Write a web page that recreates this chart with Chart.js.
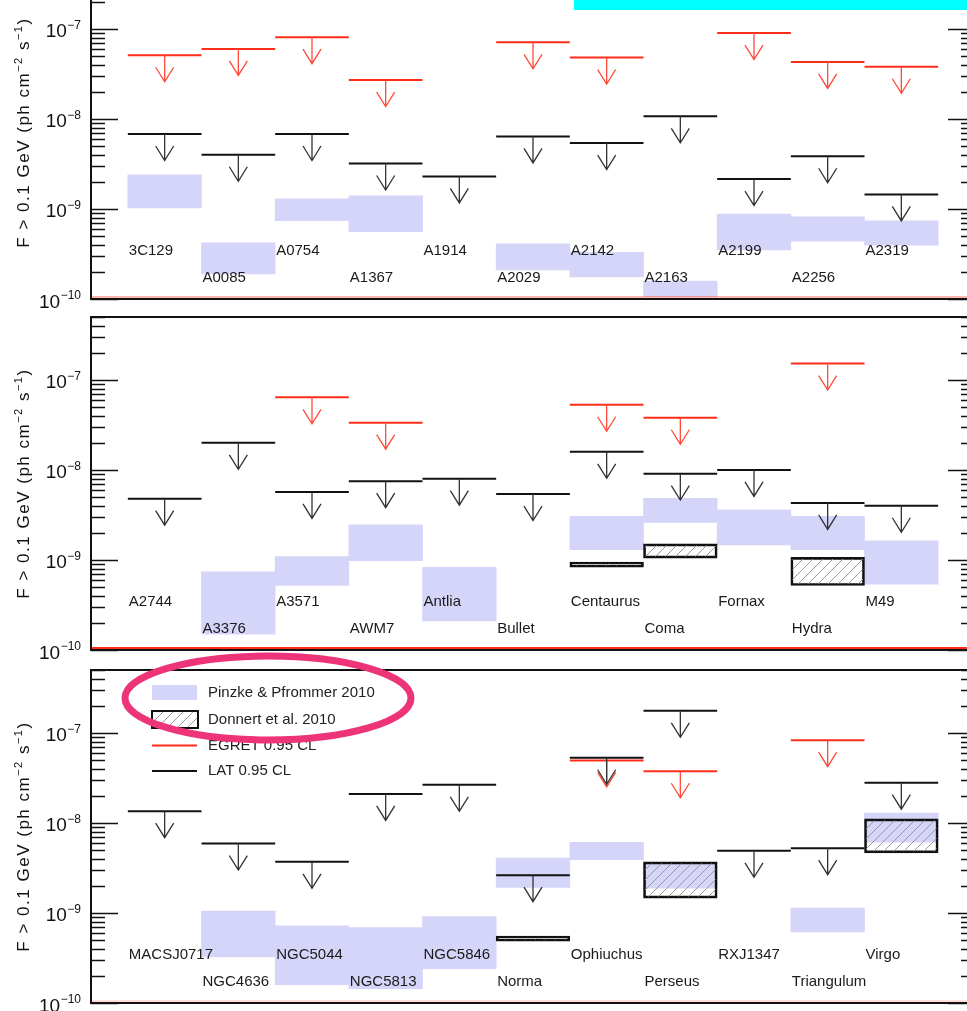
<!DOCTYPE html>
<html>
<head>
<meta charset="utf-8">
<script src="https://cdn.jsdelivr.net/npm/chart.js@4.4.1/dist/chart.umd.min.js"></script>
<style>
  html, body { margin: 0; padding: 0; background: #fff; overflow: hidden; }
  body { width: 967px; height: 1011px; position: relative; }
  .panel { position: absolute; left: 0; width: 1000px; height: 383px; }
  #overlay { position: absolute; left: 0; top: 0; }
</style>
</head>
<body>
<div class="panel" style="top:-59px"><canvas id="c1"></canvas></div>
<div class="panel" style="top:292px"><canvas id="c2"></canvas></div>
<div class="panel" style="top:645px"><canvas id="c3"></canvas></div>
<svg id="overlay" width="967" height="1011">
  <rect x="574" y="0" width="393" height="10" fill="#00ffff"/>
  <ellipse cx="268" cy="698" rx="143" ry="42" fill="none" stroke="#ee3479" stroke-width="7"/>
</svg>
<script>
// panel 1
const names1 = ['3C129', 'A0085', 'A0754', 'A1367', 'A1914', 'A2029', 'A2142', 'A2163', 'A2199', 'A2256', 'A2319'];
const pinzkeLow1 = [1.03e-9, 1.9e-10, 7.4e-10, 5.6e-10, null, 2.1e-10, 1.76e-10, 1.06e-10, 3.5e-10, 4.4e-10, 3.95e-10];
const pinzkeHigh1 = [2.4e-9, 4.2e-10, 1.3e-9, 1.4e-9, null, 4.1e-10, 3.3e-10, 1.58e-10, 8.8e-10, 8.2e-10, 7.4e-10];
const donnertLow1 = [null, null, null, null, null, null, null, null, null, null, null];
const donnertHigh1 = [null, null, null, null, null, null, null, null, null, null, null];
const egret1 = [5.1e-8, 6.0e-8, 8.1e-8, 2.7e-8, null, 7.1e-8, 4.8e-8, null, 9.0e-8, 4.3e-8, 3.8e-8];
const lat1 = [6.8e-9, 4.0e-9, 6.8e-9, 3.2e-9, 2.3e-9, 6.4e-9, 5.4e-9, 1.07e-8, 2.15e-9, 3.85e-9, 1.45e-9];

// panel 2
const names2 = ['A2744', 'A3376', 'A3571', 'AWM7', 'Antlia', 'Bullet', 'Centaurus', 'Coma', 'Fornax', 'Hydra', 'M49'];
const pinzkeLow2 = [null, 1.5e-10, 5.2e-10, 9.8e-10, 2.1e-10, null, 1.3e-9, 2.62e-9, 1.47e-9, 1.3e-9, 5.4e-10];
const pinzkeHigh2 = [null, 7.4e-10, 1.09e-9, 2.45e-9, 8.3e-10, null, 3.05e-9, 4.85e-9, 3.6e-9, 3.05e-9, 1.63e-9];
const donnertLow2 = [null, null, null, null, null, null, 8.3e-10, 1.05e-9, null, 5.2e-10, null];
const donnertHigh2 = [null, null, null, null, null, null, 9.5e-10, 1.51e-9, null, 1.07e-9, null];
const egret2 = [null, null, 6.4e-8, 3.35e-8, null, null, 5.3e-8, 3.8e-8, null, 1.52e-7, null];
const lat2 = [4.8e-9, 2.0e-8, 5.7e-9, 7.5e-9, 8.0e-9, 5.4e-9, 1.59e-8, 9.1e-9, 1.0e-8, 4.3e-9, 4.0e-9];

// panel 3
const names3 = ['MACSJ0717', 'NGC4636', 'NGC5044', 'NGC5813', 'NGC5846', 'Norma', 'Ophiuchus', 'Perseus', 'RXJ1347', 'Triangulum', 'Virgo'];
const pinzkeLow3 = [null, 3.25e-10, 1.6e-10, 1.44e-10, 2.4e-10, 1.92e-9, 3.9e-9, 1.89e-9, null, 6.15e-10, 6.1e-9];
const pinzkeHigh3 = [null, 1.05e-9, 7.2e-10, 6.9e-10, 9.1e-10, 4.07e-9, 6.1e-9, 3.64e-9, null, 1.13e-9, 1.29e-8];
const donnertLow3 = [null, null, null, null, null, 4.85e-10, null, 1.46e-9, null, null, 4.65e-9];
const donnertHigh3 = [null, null, null, null, null, 5.55e-10, null, 3.7e-9, null, null, 1.11e-8];
const egret3 = [null, null, null, null, null, null, 4.95e-8, 3.75e-8, null, 8.3e-8, null];
const lat3 = [1.35e-8, 5.9e-9, 3.7e-9, 2.1e-8, 2.65e-8, 2.63e-9, 5.3e-8, 1.76e-7, 4.9e-9, 5.25e-9, 2.8e-8];

const seriesNames = ['Pinzke & Pfrommer 2010', 'Donnert et al. 2010', 'EGRET 0.95 CL', 'LAT 0.95 CL'];
const decadeTicks = [1e-10, 1e-9, 1e-8, 1e-7];
const decadeExponents = ['\u221210', '\u22129', '\u22128', '\u22127'];
const yTitle = [['F > 0.1 GeV (ph cm', false], ['\u22122', true], [' s', false], ['\u22121', true], [')', false]];
const labelRows = [3.4e-10, 1.7e-10];
const yMin = 1e-10, yMax = 5e-7;

const FONT = "'Liberation Sans', Arial, sans-serif";
const BLUE = 'rgb(213,213,249)';
const RED = '#ff2d1a';

// hatch pattern for Donnert boxes
const pc = document.createElement('canvas');
pc.width = 10; pc.height = 10;
const pg = pc.getContext('2d');
pg.strokeStyle = '#9a9a9a';
pg.lineWidth = 1;
pg.beginPath();
pg.moveTo(0, 10); pg.lineTo(10, 0);
pg.moveTo(-1, 1); pg.lineTo(1, -1);
pg.moveTo(9, 11); pg.lineTo(11, 9);
pg.stroke();
const hatch = pg.createPattern(pc, 'repeat');

function bars(lo, hi) {
  const out = [];
  lo.forEach((v, i) => { if (v != null) out.push({ x: i, y: [v, hi[i]] }); });
  return out;
}
function points(vals) {
  const out = [];
  vals.forEach((v, i) => { if (v != null) out.push({ x: i, y: v }); });
  return out;
}

function drawLimit(ctx, x, y, half, lineColor, arrowColor) {
  ctx.strokeStyle = lineColor;
  ctx.lineWidth = 2;
  ctx.beginPath();
  ctx.moveTo(x - half, y); ctx.lineTo(x + half, y);
  ctx.stroke();
  ctx.strokeStyle = arrowColor;
  ctx.lineWidth = 1.3;
  ctx.beginPath();
  ctx.moveTo(x, y); ctx.lineTo(x, y + 26);
  ctx.moveTo(x - 9, y + 12); ctx.lineTo(x, y + 26.5); ctx.lineTo(x + 9, y + 12);
  ctx.stroke();
}

const decoPlugin = {
  id: 'deco',
  afterDatasetsDraw(chart, args, opts) {
    const ctx = chart.ctx, xs = chart.scales.x, ys = chart.scales.y;
    const area = chart.chartArea;
    const half = (xs.getPixelForValue(1) - xs.getPixelForValue(0)) / 2;
    ctx.save();
    // cluster names, two alternating rows
    ctx.font = '15px ' + FONT;
    ctx.fillStyle = '#1a1a1a';
    ctx.textBaseline = 'middle';
    ctx.textAlign = 'left';
    opts.names.forEach((n, i) => {
      ctx.fillText(n, xs.getPixelForValue(i - 0.5) + 1, ys.getPixelForValue(labelRows[i % 2]));
    });
    // upper limits
    chart.data.datasets.forEach((ds, di) => {
      if (!ds.upperLimit) return;
      chart.getDatasetMeta(di).data.forEach(pt => drawLimit(ctx, pt.x, pt.y, half, ds.borderColor, ds.arrowColor));
    });
    // red line along the bottom
    if (opts.bottomRed) {
      ctx.strokeStyle = opts.bottomRed;
      ctx.lineWidth = 2;
      ctx.beginPath();
      ctx.moveTo(area.left, area.bottom - 2); ctx.lineTo(area.right, area.bottom - 2);
      ctx.stroke();
    }
    // frame
    ctx.strokeStyle = '#111';
    ctx.lineWidth = 2;
    ctx.strokeRect(area.left, area.top, area.right - area.left, area.bottom - area.top);
    // inward ticks on both sides
    ctx.lineWidth = 1.6;
    ctx.beginPath();
    for (let e = -10; e <= -7; e++) {
      for (let k = 1; k <= 9; k++) {
        const v = k * Math.pow(10, e);
        if (v < yMin || v > yMax) continue;
        const y = Math.round(ys.getPixelForValue(v)) + 0.5;
        const len = k === 1 ? 27 : 14;
        ctx.moveTo(area.left, y); ctx.lineTo(area.left + len, y);
        ctx.moveTo(area.right, y); ctx.lineTo(area.right - len, y);
      }
    }
    ctx.stroke();
    // decade labels 10^n
    ctx.fillStyle = '#111';
    ctx.textBaseline = 'alphabetic';
    ctx.textAlign = 'right';
    decadeTicks.forEach((v, i) => {
      const y = ys.getPixelForValue(v);
      const right = area.left - 10;
      ctx.font = '12px ' + FONT;
      const ew = ctx.measureText(decadeExponents[i]).width;
      ctx.fillText(decadeExponents[i], right, y);
      ctx.font = '19px ' + FONT;
      ctx.fillText('10', right - ew - 0.5, y + 8.5);
    });
    // axis title, rotated
    ctx.save();
    ctx.translate(29, (area.top + area.bottom) / 2);
    ctx.rotate(-Math.PI / 2);
    ctx.letterSpacing = '1.5px';
    ctx.textAlign = 'left';
    let total = 0;
    yTitle.forEach(([t, sup]) => {
      ctx.font = (sup ? '11px ' : '17px ') + FONT;
      total += ctx.measureText(t).width;
    });
    let tx = -total / 2;
    yTitle.forEach(([t, sup]) => {
      ctx.font = (sup ? '11px ' : '17px ') + FONT;
      ctx.fillText(t, tx, sup ? -7 : 0);
      tx += ctx.measureText(t).width;
    });
    ctx.restore();
    // legend
    if (opts.legend) {
      const x0 = area.left + 61, tx0 = area.left + 117;
      const rows = [22.5, 49.5, 75.5, 101];
      const dsets = chart.data.datasets;
      ctx.fillStyle = dsets[0].backgroundColor;
      ctx.fillRect(x0, area.top + rows[0] - 7.5, 45, 15);
      ctx.fillStyle = dsets[1].backgroundColor;
      ctx.fillRect(x0, area.top + rows[1] - 8.5, 46, 17);
      ctx.strokeStyle = dsets[1].borderColor;
      ctx.lineWidth = 2;
      ctx.strokeRect(x0, area.top + rows[1] - 8.5, 46, 17);
      ctx.strokeStyle = dsets[2].borderColor;
      ctx.beginPath(); ctx.moveTo(x0, area.top + rows[2]); ctx.lineTo(x0 + 45, area.top + rows[2]); ctx.stroke();
      ctx.strokeStyle = dsets[3].borderColor;
      ctx.beginPath(); ctx.moveTo(x0, area.top + rows[3]); ctx.lineTo(x0 + 45, area.top + rows[3]); ctx.stroke();
      ctx.font = '15px ' + FONT;
      ctx.fillStyle = '#222';
      ctx.textAlign = 'left';
      ctx.textBaseline = 'middle';
      dsets.forEach((ds, i) => ctx.fillText(ds.label, tx0, area.top + rows[i]));
    }
    ctx.restore();
  }
};

function makePanel(id, names, pLo, pHi, dLo, dHi, egret, lat, extra) {
  return new Chart(document.getElementById(id), {
    type: 'bar',
    data: {
      datasets: [
        { label: seriesNames[0], data: bars(pLo, pHi), backgroundColor: BLUE, borderWidth: 0, order: 2 },
        { label: seriesNames[1], data: bars(dLo, dHi), backgroundColor: hatch, borderColor: '#111', borderWidth: 2, borderSkipped: false, order: 1 },
        { type: 'line', label: seriesNames[2], data: points(egret), upperLimit: true, borderColor: RED, arrowColor: '#ff4a3a', showLine: false, pointRadius: 0, pointHoverRadius: 0 },
        { type: 'line', label: seriesNames[3], data: points(lat), upperLimit: true, borderColor: '#111', arrowColor: '#333', showLine: false, pointRadius: 0, pointHoverRadius: 0 }
      ]
    },
    options: {
      responsive: true,
      maintainAspectRatio: false,
      animation: false,
      events: [],
      layout: { padding: { top: 25, bottom: 25, left: 0, right: 25 } },
      datasets: { bar: { grouped: false, barPercentage: 1, categoryPercentage: 1 } },
      plugins: {
        legend: { display: false },
        tooltip: { enabled: false },
        deco: Object.assign({ names: names }, extra)
      },
      scales: {
        x: { type: 'linear', min: -1, max: 11, offset: false, display: false },
        y: {
          type: 'logarithmic',
          min: yMin,
          max: yMax,
          afterFit(scale) { scale.width = 91; },
          afterBuildTicks(scale) { scale.ticks = decadeTicks.map(v => ({ value: v })); },
          grid: { display: false, drawTicks: false },
          border: { display: false },
          ticks: { display: false },
          title: { display: false }
        }
      }
    },
    plugins: [decoPlugin]
  });
}

makePanel('c1', names1, pinzkeLow1, pinzkeHigh1, donnertLow1, donnertHigh1, egret1, lat1, { bottomRed: 'rgba(255,45,26,0.35)' });
makePanel('c2', names2, pinzkeLow2, pinzkeHigh2, donnertLow2, donnertHigh2, egret2, lat2, { bottomRed: RED });
makePanel('c3', names3, pinzkeLow3, pinzkeHigh3, donnertLow3, donnertHigh3, egret3, lat3, { bottomRed: 'rgba(255,45,26,0.15)', legend: true });
</script>
</body>
</html>
